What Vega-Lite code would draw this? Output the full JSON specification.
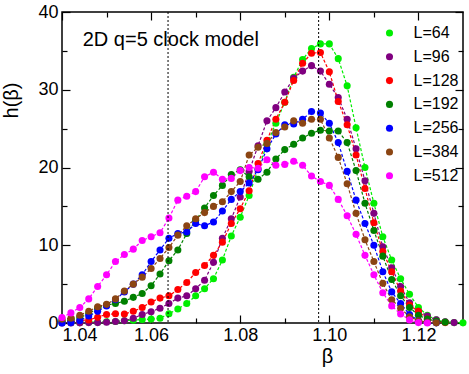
{
"$schema": "https://vega.github.io/schema/vega-lite/v6.json",
"width": 401, "height": 311,
"autosize": "none",
"padding": {"left": 62, "top": 12, "right": 6, "bottom": 51},
"background": "white",
"config": {"view": {"stroke": "black", "strokeWidth": 1.5}, "font": "Liberation Sans"},
"datasets": {"h": [
{"L":"L=64","b":1.040,"h":0.05},{"L":"L=64","b":1.042,"h":0.05},{"L":"L=64","b":1.044,"h":0.05},{"L":"L=64","b":1.046,"h":0.1},{"L":"L=64","b":1.048,"h":0.1},{"L":"L=64","b":1.050,"h":0.15},{"L":"L=64","b":1.052,"h":0.2},{"L":"L=64","b":1.054,"h":0.3},{"L":"L=64","b":1.056,"h":0.35},{"L":"L=64","b":1.058,"h":0.45},{"L":"L=64","b":1.060,"h":0.5},{"L":"L=64","b":1.062,"h":0.6},{"L":"L=64","b":1.064,"h":1.2},{"L":"L=64","b":1.066,"h":1.8},{"L":"L=64","b":1.068,"h":2.5},{"L":"L=64","b":1.070,"h":3.5},{"L":"L=64","b":1.072,"h":4.4},{"L":"L=64","b":1.074,"h":5.7},{"L":"L=64","b":1.076,"h":8.1},{"L":"L=64","b":1.078,"h":11.2},{"L":"L=64","b":1.080,"h":13.6},{"L":"L=64","b":1.082,"h":16.4},{"L":"L=64","b":1.084,"h":19.8},{"L":"L=64","b":1.086,"h":23.0},{"L":"L=64","b":1.088,"h":25.7},{"L":"L=64","b":1.090,"h":28.4},{"L":"L=64","b":1.092,"h":31.6},{"L":"L=64","b":1.094,"h":33.9},{"L":"L=64","b":1.096,"h":35.3},{"L":"L=64","b":1.098,"h":35.9},{"L":"L=64","b":1.100,"h":35.9},{"L":"L=64","b":1.102,"h":34.0},{"L":"L=64","b":1.104,"h":30.5},{"L":"L=64","b":1.106,"h":25.1},{"L":"L=64","b":1.108,"h":20.0},{"L":"L=64","b":1.110,"h":15.4},{"L":"L=64","b":1.112,"h":11.1},{"L":"L=64","b":1.114,"h":8.1},{"L":"L=64","b":1.116,"h":5.7},{"L":"L=64","b":1.118,"h":3.7},{"L":"L=64","b":1.120,"h":2.0},{"L":"L=64","b":1.122,"h":1.0},{"L":"L=64","b":1.124,"h":0.4},{"L":"L=64","b":1.126,"h":0.15},{"L":"L=64","b":1.128,"h":0.05},{"L":"L=64","b":1.130,"h":0.02},
{"L":"L=96","b":1.040,"h":0.0},{"L":"L=96","b":1.042,"h":0.0},{"L":"L=96","b":1.044,"h":0.02},{"L":"L=96","b":1.046,"h":0.05},{"L":"L=96","b":1.048,"h":0.05},{"L":"L=96","b":1.050,"h":0.1},{"L":"L=96","b":1.052,"h":0.2},{"L":"L=96","b":1.054,"h":0.3},{"L":"L=96","b":1.056,"h":0.6},{"L":"L=96","b":1.058,"h":1.1},{"L":"L=96","b":1.060,"h":1.45},{"L":"L=96","b":1.062,"h":1.9},{"L":"L=96","b":1.064,"h":2.5},{"L":"L=96","b":1.066,"h":3.2},{"L":"L=96","b":1.068,"h":3.5},{"L":"L=96","b":1.070,"h":4.4},{"L":"L=96","b":1.072,"h":5.5},{"L":"L=96","b":1.074,"h":7.8},{"L":"L=96","b":1.076,"h":10.9},{"L":"L=96","b":1.078,"h":13.4},{"L":"L=96","b":1.080,"h":16.2},{"L":"L=96","b":1.082,"h":19.5},{"L":"L=96","b":1.084,"h":22.8},{"L":"L=96","b":1.086,"h":26.0},{"L":"L=96","b":1.088,"h":27.7},{"L":"L=96","b":1.090,"h":29.7},{"L":"L=96","b":1.092,"h":31.5},{"L":"L=96","b":1.094,"h":32.4},{"L":"L=96","b":1.096,"h":33.1},{"L":"L=96","b":1.098,"h":32.4},{"L":"L=96","b":1.100,"h":30.7},{"L":"L=96","b":1.102,"h":29.0},{"L":"L=96","b":1.104,"h":26.2},{"L":"L=96","b":1.106,"h":22.4},{"L":"L=96","b":1.108,"h":18.3},{"L":"L=96","b":1.110,"h":14.1},{"L":"L=96","b":1.112,"h":9.8},{"L":"L=96","b":1.114,"h":7.1},{"L":"L=96","b":1.116,"h":4.7},{"L":"L=96","b":1.118,"h":2.6},{"L":"L=96","b":1.120,"h":1.5},{"L":"L=96","b":1.122,"h":0.9},{"L":"L=96","b":1.124,"h":0.4},{"L":"L=96","b":1.126,"h":0.15},{"L":"L=96","b":1.128,"h":0.05},
{"L":"L=128","b":1.040,"h":0.15},{"L":"L=128","b":1.042,"h":0.2},{"L":"L=128","b":1.044,"h":0.3},{"L":"L=128","b":1.046,"h":0.4},{"L":"L=128","b":1.048,"h":0.75},{"L":"L=128","b":1.050,"h":1.1},{"L":"L=128","b":1.052,"h":1.2},{"L":"L=128","b":1.054,"h":1.15},{"L":"L=128","b":1.056,"h":1.5},{"L":"L=128","b":1.058,"h":2.0},{"L":"L=128","b":1.060,"h":2.7},{"L":"L=128","b":1.062,"h":3.2},{"L":"L=128","b":1.064,"h":3.5},{"L":"L=128","b":1.066,"h":4.3},{"L":"L=128","b":1.068,"h":5.2},{"L":"L=128","b":1.070,"h":6.5},{"L":"L=128","b":1.072,"h":7.4},{"L":"L=128","b":1.074,"h":8.7},{"L":"L=128","b":1.076,"h":10.4},{"L":"L=128","b":1.078,"h":12.8},{"L":"L=128","b":1.080,"h":14.7},{"L":"L=128","b":1.082,"h":17.0},{"L":"L=128","b":1.084,"h":20.5},{"L":"L=128","b":1.086,"h":23.5},{"L":"L=128","b":1.088,"h":26.2},{"L":"L=128","b":1.090,"h":28.4},{"L":"L=128","b":1.092,"h":31.2},{"L":"L=128","b":1.094,"h":33.4},{"L":"L=128","b":1.096,"h":34.7},{"L":"L=128","b":1.098,"h":34.8},{"L":"L=128","b":1.100,"h":32.3},{"L":"L=128","b":1.102,"h":28.5},{"L":"L=128","b":1.104,"h":25.5},{"L":"L=128","b":1.106,"h":21.6},{"L":"L=128","b":1.108,"h":17.3},{"L":"L=128","b":1.110,"h":12.9},{"L":"L=128","b":1.112,"h":9.2},{"L":"L=128","b":1.114,"h":6.6},{"L":"L=128","b":1.116,"h":4.1},{"L":"L=128","b":1.118,"h":2.3},{"L":"L=128","b":1.120,"h":1.5},{"L":"L=128","b":1.122,"h":0.5},{"L":"L=128","b":1.124,"h":0.2},{"L":"L=128","b":1.126,"h":0.05},
{"L":"L=192","b":1.040,"h":0.3},{"L":"L=192","b":1.042,"h":0.4},{"L":"L=192","b":1.044,"h":0.7},{"L":"L=192","b":1.046,"h":1.2},{"L":"L=192","b":1.048,"h":1.9},{"L":"L=192","b":1.050,"h":2.3},{"L":"L=192","b":1.052,"h":2.5},{"L":"L=192","b":1.054,"h":2.8},{"L":"L=192","b":1.056,"h":3.3},{"L":"L=192","b":1.058,"h":3.8},{"L":"L=192","b":1.060,"h":4.8},{"L":"L=192","b":1.062,"h":6.3},{"L":"L=192","b":1.064,"h":8.0},{"L":"L=192","b":1.066,"h":9.4},{"L":"L=192","b":1.068,"h":11.5},{"L":"L=192","b":1.070,"h":13.2},{"L":"L=192","b":1.072,"h":14.8},{"L":"L=192","b":1.074,"h":16.4},{"L":"L=192","b":1.076,"h":17.7},{"L":"L=192","b":1.078,"h":19.1},{"L":"L=192","b":1.080,"h":19.7},{"L":"L=192","b":1.082,"h":18.8},{"L":"L=192","b":1.084,"h":18.5},{"L":"L=192","b":1.086,"h":19.4},{"L":"L=192","b":1.088,"h":21.1},{"L":"L=192","b":1.090,"h":22.3},{"L":"L=192","b":1.092,"h":23.0},{"L":"L=192","b":1.094,"h":23.8},{"L":"L=192","b":1.096,"h":24.4},{"L":"L=192","b":1.098,"h":24.8},{"L":"L=192","b":1.100,"h":24.7},{"L":"L=192","b":1.102,"h":24.7},{"L":"L=192","b":1.104,"h":23.2},{"L":"L=192","b":1.106,"h":19.6},{"L":"L=192","b":1.108,"h":15.4},{"L":"L=192","b":1.110,"h":11.9},{"L":"L=192","b":1.112,"h":8.6},{"L":"L=192","b":1.114,"h":5.6},{"L":"L=192","b":1.116,"h":3.5},{"L":"L=192","b":1.118,"h":2.0},{"L":"L=192","b":1.120,"h":1.0},{"L":"L=192","b":1.122,"h":0.5},{"L":"L=192","b":1.124,"h":0.25},{"L":"L=192","b":1.126,"h":0.1},
{"L":"L=256","b":1.040,"h":0.0},{"L":"L=256","b":1.042,"h":0.05},{"L":"L=256","b":1.044,"h":0.3},{"L":"L=256","b":1.046,"h":0.9},{"L":"L=256","b":1.048,"h":1.5},{"L":"L=256","b":1.050,"h":2.2},{"L":"L=256","b":1.052,"h":3.0},{"L":"L=256","b":1.054,"h":4.0},{"L":"L=256","b":1.056,"h":5.0},{"L":"L=256","b":1.058,"h":6.2},{"L":"L=256","b":1.060,"h":7.9},{"L":"L=256","b":1.062,"h":9.4},{"L":"L=256","b":1.064,"h":10.9},{"L":"L=256","b":1.066,"h":11.5},{"L":"L=256","b":1.068,"h":11.7},{"L":"L=256","b":1.070,"h":12.8},{"L":"L=256","b":1.072,"h":12.5},{"L":"L=256","b":1.074,"h":13.0},{"L":"L=256","b":1.076,"h":14.4},{"L":"L=256","b":1.078,"h":15.9},{"L":"L=256","b":1.080,"h":16.9},{"L":"L=256","b":1.082,"h":18.0},{"L":"L=256","b":1.084,"h":19.7},{"L":"L=256","b":1.086,"h":22.4},{"L":"L=256","b":1.088,"h":24.3},{"L":"L=256","b":1.090,"h":25.5},{"L":"L=256","b":1.092,"h":25.6},{"L":"L=256","b":1.094,"h":26.2},{"L":"L=256","b":1.096,"h":27.2},{"L":"L=256","b":1.098,"h":27.0},{"L":"L=256","b":1.100,"h":25.7},{"L":"L=256","b":1.102,"h":23.2},{"L":"L=256","b":1.104,"h":19.5},{"L":"L=256","b":1.106,"h":15.8},{"L":"L=256","b":1.108,"h":12.8},{"L":"L=256","b":1.110,"h":10.0},{"L":"L=256","b":1.112,"h":6.6},{"L":"L=256","b":1.114,"h":4.0},{"L":"L=256","b":1.116,"h":2.5},{"L":"L=256","b":1.118,"h":1.1},{"L":"L=256","b":1.120,"h":0.3},{"L":"L=256","b":1.122,"h":0.1},{"L":"L=256","b":1.124,"h":0.02},
{"L":"L=384","b":1.040,"h":0.5},{"L":"L=384","b":1.042,"h":0.6},{"L":"L=384","b":1.044,"h":1.0},{"L":"L=384","b":1.046,"h":1.5},{"L":"L=384","b":1.048,"h":2.1},{"L":"L=384","b":1.050,"h":2.4},{"L":"L=384","b":1.052,"h":3.1},{"L":"L=384","b":1.054,"h":4.1},{"L":"L=384","b":1.056,"h":5.0},{"L":"L=384","b":1.058,"h":5.9},{"L":"L=384","b":1.060,"h":7.0},{"L":"L=384","b":1.062,"h":8.3},{"L":"L=384","b":1.064,"h":9.7},{"L":"L=384","b":1.066,"h":11.3},{"L":"L=384","b":1.068,"h":12.5},{"L":"L=384","b":1.070,"h":13.4},{"L":"L=384","b":1.072,"h":14.2},{"L":"L=384","b":1.074,"h":15.0},{"L":"L=384","b":1.076,"h":15.6},{"L":"L=384","b":1.078,"h":16.9},{"L":"L=384","b":1.080,"h":18.2},{"L":"L=384","b":1.082,"h":21.6},{"L":"L=384","b":1.084,"h":22.6},{"L":"L=384","b":1.086,"h":23.1},{"L":"L=384","b":1.088,"h":24.5},{"L":"L=384","b":1.090,"h":25.2},{"L":"L=384","b":1.092,"h":26.0},{"L":"L=384","b":1.094,"h":25.7},{"L":"L=384","b":1.096,"h":26.2},{"L":"L=384","b":1.098,"h":26.2},{"L":"L=384","b":1.100,"h":23.8},{"L":"L=384","b":1.102,"h":21.3},{"L":"L=384","b":1.104,"h":17.9},{"L":"L=384","b":1.106,"h":14.1},{"L":"L=384","b":1.108,"h":10.7},{"L":"L=384","b":1.110,"h":7.9},{"L":"L=384","b":1.112,"h":5.1},{"L":"L=384","b":1.114,"h":3.0},{"L":"L=384","b":1.116,"h":1.9},{"L":"L=384","b":1.118,"h":0.8},{"L":"L=384","b":1.120,"h":0.3},{"L":"L=384","b":1.122,"h":0.1},{"L":"L=384","b":1.124,"h":0.02},
{"L":"L=512","b":1.040,"h":0.7},{"L":"L=512","b":1.042,"h":1.3},{"L":"L=512","b":1.044,"h":2.0},{"L":"L=512","b":1.046,"h":3.1},{"L":"L=512","b":1.048,"h":4.7},{"L":"L=512","b":1.050,"h":6.2},{"L":"L=512","b":1.052,"h":7.9},{"L":"L=512","b":1.054,"h":8.8},{"L":"L=512","b":1.056,"h":9.5},{"L":"L=512","b":1.058,"h":10.6},{"L":"L=512","b":1.060,"h":11.1},{"L":"L=512","b":1.062,"h":11.6},{"L":"L=512","b":1.064,"h":13.5},{"L":"L=512","b":1.066,"h":15.8},{"L":"L=512","b":1.068,"h":16.3},{"L":"L=512","b":1.070,"h":16.9},{"L":"L=512","b":1.072,"h":18.8},{"L":"L=512","b":1.074,"h":19.4},{"L":"L=512","b":1.076,"h":18.5},{"L":"L=512","b":1.078,"h":18.6},{"L":"L=512","b":1.080,"h":19.6},{"L":"L=512","b":1.082,"h":20.0},{"L":"L=512","b":1.084,"h":19.9},{"L":"L=512","b":1.086,"h":21.0},{"L":"L=512","b":1.088,"h":20.3},{"L":"L=512","b":1.090,"h":20.4},{"L":"L=512","b":1.092,"h":20.8},{"L":"L=512","b":1.094,"h":20.3},{"L":"L=512","b":1.096,"h":18.9},{"L":"L=512","b":1.098,"h":18.2},{"L":"L=512","b":1.100,"h":17.7},{"L":"L=512","b":1.102,"h":15.9},{"L":"L=512","b":1.104,"h":13.8},{"L":"L=512","b":1.106,"h":11.4},{"L":"L=512","b":1.108,"h":8.7},{"L":"L=512","b":1.110,"h":6.2},{"L":"L=512","b":1.112,"h":3.9},{"L":"L=512","b":1.114,"h":2.2},{"L":"L=512","b":1.116,"h":1.15},{"L":"L=512","b":1.118,"h":0.4},{"L":"L=512","b":1.120,"h":0.05},{"L":"L=512","b":1.122,"h":0.0}
]},
"layer": [
{"data": {"name": "h"},
 "mark": {"type": "line", "strokeDash": [3, 2], "strokeWidth": 1.2},
 "encoding": {
  "x": {"field": "b", "type": "quantitative", "scale": {"domain": [1.04, 1.13], "nice": false, "zero": false}, "axis": null},
  "y": {"field": "h", "type": "quantitative", "scale": {"domain": [0, 40], "nice": false}, "axis": null},
  "stroke": {"field": "L", "type": "nominal", "scale": {"domain": ["L=64","L=96","L=128","L=192","L=256","L=384","L=512"], "range": ["#00ee00","#800080","#ff0000","#008000","#0000ff","#8b4513","#ff00ff"]},
             "legend": {"disable": true, "orient": "left"}}
 }},
{"data": {"name": "h"},
 "mark": {"type": "point", "filled": true, "size": 50, "opacity": 1, "shape": "circle"},
 "encoding": {
  "x": {"field": "b", "type": "quantitative", "scale": {"domain": [1.04, 1.13], "nice": false, "zero": false},
        "axis": {"orient": "bottom", "values": [1.04,1.05,1.06,1.07,1.08,1.09,1.10,1.11,1.12], "grid": false, "domain": false,
                 "labelExpr": "round(datum.value*100) % 2 == 0 ? format(datum.value, '.2f') : ''",
                 "tickSize": {"condition": {"test": "round(datum.value*100) % 2 == 0", "value": -8}, "value": -5},
                 "tickColor": "black", "tickWidth": 1.2, "labelFontSize": 18, "labelColor": "black", "labelPadding": 11, "labelFont": "Liberation Sans",
                 "title": "β", "titleFontSize": 20, "titleFontWeight": "normal", "titleColor": "black", "titleFont": "Liberation Sans",
                 "titleX": 265, "titleY": 39, "titleAlign": "center", "titleBaseline": "alphabetic"}},
  "y": {"field": "h", "type": "quantitative", "scale": {"domain": [0, 40], "nice": false},
        "axis": {"orient": "left", "values": [0,5,10,15,20,25,30,35,40], "grid": false, "domain": false,
                 "labelExpr": "datum.value % 10 == 0 ? datum.value : ''",
                 "tickSize": {"condition": {"test": "datum.value % 10 == 0", "value": -8}, "value": -5},
                 "tickColor": "black", "tickWidth": 1.2, "labelFontSize": 18, "labelColor": "black", "labelPadding": 12, "labelFont": "Liberation Sans",
                 "title": "h(β)", "titleFontSize": 20, "titleFontWeight": "normal", "titleColor": "black", "titleFont": "Liberation Sans",
                 "titleX": -41, "titleY": 88, "titleAngle": -90, "titleAlign": "center", "titleBaseline": "bottom"}},
  "color": {"field": "L", "type": "nominal", "scale": {"domain": ["L=64","L=96","L=128","L=192","L=256","L=384","L=512"], "range": ["#00ee00","#800080","#ff0000","#008000","#0000ff","#8b4513","#ff00ff"]},
            "legend": {"orient": "none", "legendX": 319.5, "legendY": 13, "title": null, "padding": 0, "labelFontSize": 16, "labelFont": "Liberation Sans", "labelColor": "black",
                       "symbolType": "circle", "symbolSize": 50, "symbolStrokeWidth": 0, "rowPadding": 7.8, "labelOffset": 16}}
 }},
{"data": {"values": [{"bc": 1.0638}, {"bc": 1.0976}]},
 "mark": {"type": "rule", "strokeDash": [2, 2], "color": "black", "strokeWidth": 1},
 "encoding": {
  "x": {"field": "bc", "type": "quantitative", "scale": {"domain": [1.04, 1.13], "nice": false, "zero": false},
        "axis": {"orient": "top", "values": [1.04,1.05,1.06,1.07,1.08,1.09,1.10,1.11,1.12], "grid": false, "domain": false, "labels": false, "title": null,
                 "tickSize": {"condition": {"test": "round(datum.value*100) % 2 == 0", "value": -8}, "value": -5},
                 "tickColor": "black", "tickWidth": 1.2}}
 }},
{"data": {"values": [{"label": "2D q=5 clock model"}]},
 "mark": {"type": "text", "align": "left", "baseline": "alphabetic", "fontSize": 20, "font": "Liberation Sans", "color": "black"},
 "encoding": {
  "text": {"field": "label"},
  "x": {"datum": 1.04465, "type": "quantitative", "scale": {"domain": [1.04, 1.13], "nice": false, "zero": false}, "axis": null},
  "y": {"datum": 35.6, "type": "quantitative", "scale": {"domain": [0, 40], "nice": false},
        "axis": {"orient": "right", "values": [0,5,10,15,20,25,30,35,40], "grid": false, "domain": false, "labels": false, "title": null,
                 "tickSize": {"condition": {"test": "datum.value % 10 == 0", "value": -8}, "value": -5},
                 "tickColor": "black", "tickWidth": 1.2}}
 }}
],
"resolve": {"axis": {"x": "independent", "y": "independent"}}
}
